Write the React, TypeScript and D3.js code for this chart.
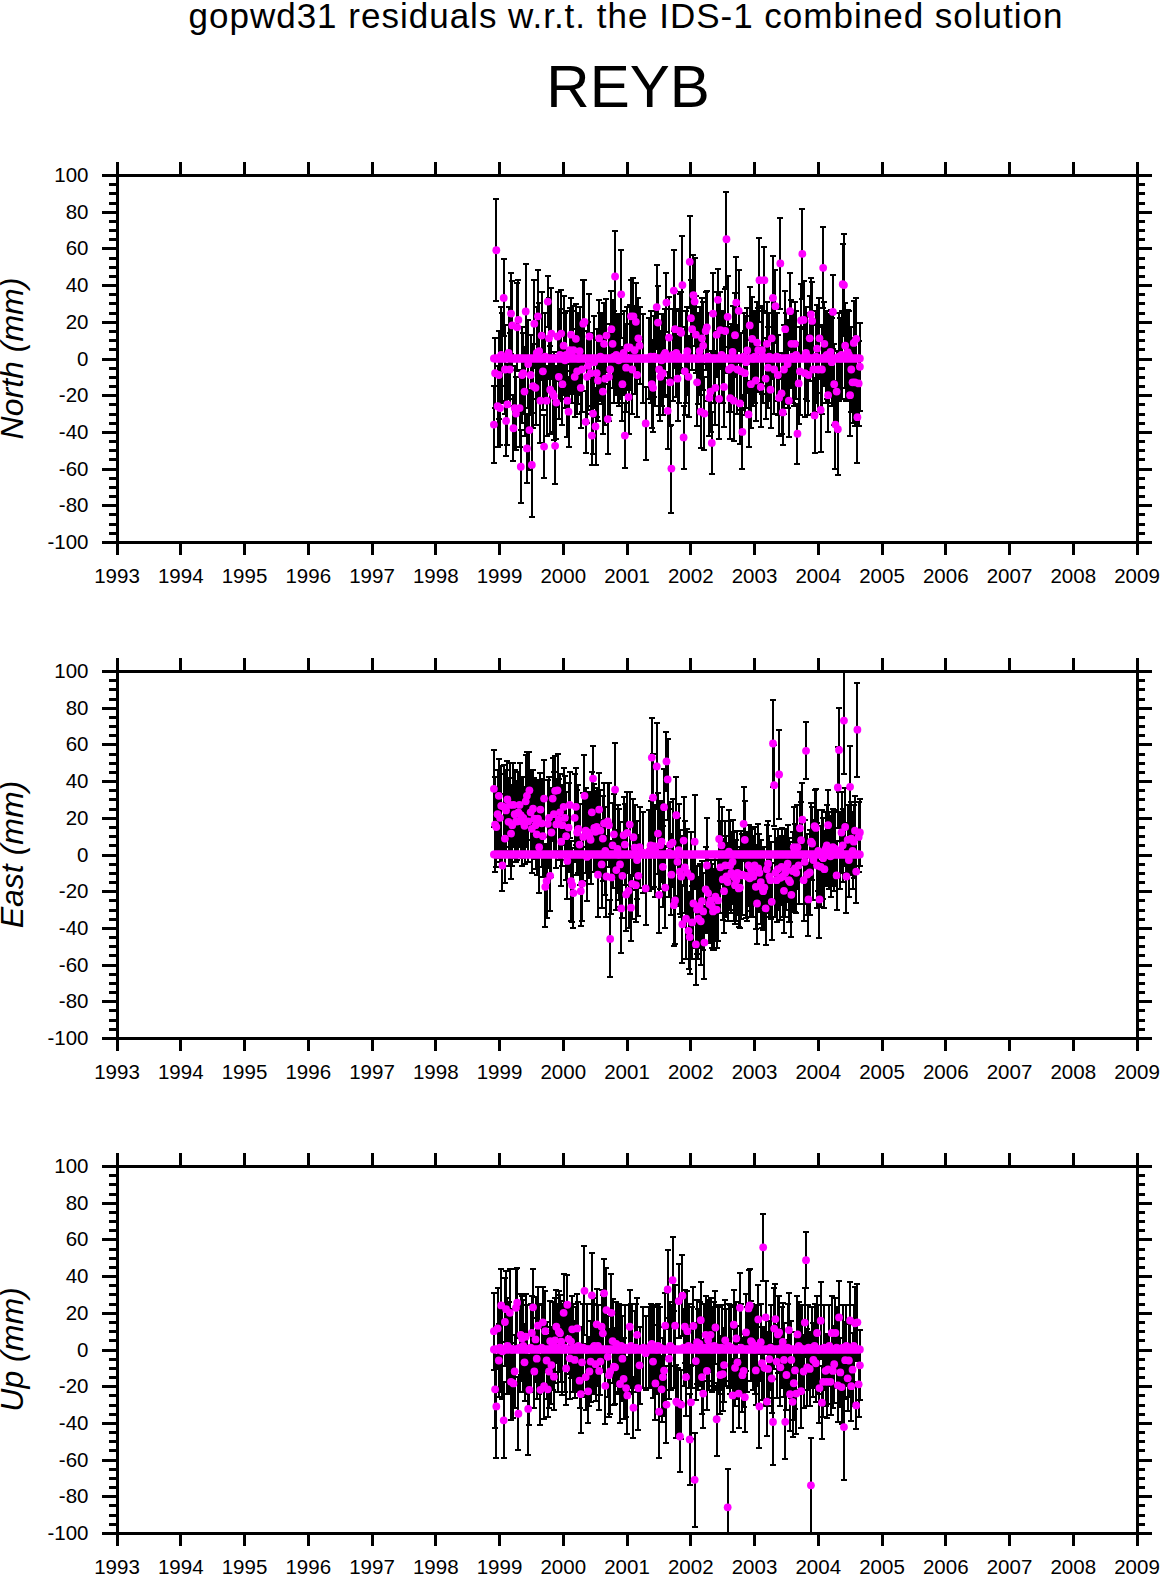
import React, { useEffect, useRef } from "react";
import * as d3 from "d3";

const yearTicks = [1993, 1994, 1995, 1996, 1997, 1998, 1999, 2000, 2001, 2002, 2003, 2004, 2005, 2006, 2007, 2008, 2009];
const mmTicks = [-100, -80, -60, -40, -20, 0, 20, 40, 60, 80, 100];
const mmMinorTicks = [-95, -90, -85, -75, -70, -65, -55, -50, -45, -35, -30, -25, -15, -10, -5, 5, 10, 15, 25, 30, 35, 45, 50, 55, 65, 70, 75, 85, 90, 95];

// weekly epochs, ten per row
const epochs = [
	1998.92, 1998.939, 1998.958, 1998.978, 1998.997, 1999.016, 1999.035, 1999.054, 1999.074, 1999.093,
	1999.112, 1999.131, 1999.15, 1999.17, 1999.189, 1999.208, 1999.227, 1999.246, 1999.266, 1999.285,
	1999.304, 1999.323, 1999.342, 1999.362, 1999.381, 1999.4, 1999.419, 1999.438, 1999.458, 1999.477,
	1999.496, 1999.515, 1999.534, 1999.554, 1999.573, 1999.592, 1999.611, 1999.63, 1999.65, 1999.669,
	1999.688, 1999.707, 1999.726, 1999.746, 1999.765, 1999.784, 1999.803, 1999.822, 1999.842, 1999.861,
	1999.88, 1999.899, 1999.918, 1999.938, 1999.957, 1999.976, 1999.995, 2000.014, 2000.034, 2000.053,
	2000.072, 2000.091, 2000.11, 2000.13, 2000.149, 2000.168, 2000.187, 2000.206, 2000.226, 2000.245,
	2000.264, 2000.283, 2000.302, 2000.322, 2000.341, 2000.36, 2000.379, 2000.398, 2000.418, 2000.437,
	2000.456, 2000.475, 2000.494, 2000.514, 2000.533, 2000.552, 2000.571, 2000.59, 2000.61, 2000.629,
	2000.648, 2000.667, 2000.686, 2000.706, 2000.725, 2000.744, 2000.763, 2000.782, 2000.802, 2000.821,
	2000.84, 2000.859, 2000.878, 2000.898, 2000.917, 2000.936, 2000.955, 2000.974, 2000.994, 2001.013,
	2001.032, 2001.051, 2001.07, 2001.09, 2001.109, 2001.128, 2001.147, 2001.166, 2001.186, 2001.205,
	2001.224, 2001.243, 2001.262, 2001.282, 2001.301, 2001.32, 2001.339, 2001.358, 2001.378, 2001.397,
	2001.416, 2001.435, 2001.454, 2001.474, 2001.493, 2001.512, 2001.531, 2001.55, 2001.57, 2001.589,
	2001.608, 2001.627, 2001.646, 2001.666, 2001.685, 2001.704, 2001.723, 2001.742, 2001.762, 2001.781,
	2001.8, 2001.819, 2001.838, 2001.858, 2001.877, 2001.896, 2001.915, 2001.934, 2001.954, 2001.973,
	2001.992, 2002.011, 2002.03, 2002.05, 2002.069, 2002.088, 2002.107, 2002.126, 2002.146, 2002.165,
	2002.184, 2002.203, 2002.222, 2002.242, 2002.261, 2002.28, 2002.299, 2002.318, 2002.338, 2002.357,
	2002.376, 2002.395, 2002.414, 2002.434, 2002.453, 2002.472, 2002.491, 2002.51, 2002.53, 2002.549,
	2002.568, 2002.587, 2002.606, 2002.626, 2002.645, 2002.664, 2002.683, 2002.702, 2002.722, 2002.741,
	2002.76, 2002.779, 2002.798, 2002.818, 2002.837, 2002.856, 2002.875, 2002.894, 2002.914, 2002.933,
	2002.952, 2002.971, 2002.99, 2003.01, 2003.029, 2003.048, 2003.067, 2003.086, 2003.106, 2003.125,
	2003.144, 2003.163, 2003.182, 2003.202, 2003.221, 2003.24, 2003.259, 2003.278, 2003.298, 2003.317,
	2003.336, 2003.355, 2003.374, 2003.394, 2003.413, 2003.432, 2003.451, 2003.47, 2003.49, 2003.509,
	2003.528, 2003.547, 2003.566, 2003.586, 2003.605, 2003.624, 2003.643, 2003.662, 2003.682, 2003.701,
	2003.72, 2003.739, 2003.758, 2003.778, 2003.797, 2003.816, 2003.835, 2003.854, 2003.874, 2003.893,
	2003.912, 2003.931, 2003.95, 2003.97, 2003.989, 2004.008, 2004.027, 2004.046, 2004.066, 2004.085,
	2004.104, 2004.123, 2004.142, 2004.162, 2004.181, 2004.2, 2004.219, 2004.238, 2004.258, 2004.277,
	2004.296, 2004.315, 2004.334, 2004.354, 2004.373, 2004.392, 2004.411, 2004.43, 2004.45, 2004.469,
	2004.488, 2004.507, 2004.526, 2004.546, 2004.565, 2004.584, 2004.603, 2004.622, 2004.642, 2004.661,
];

const northValues = [
	-36, -8, 59, -26, -9, -27, 2, 1, 33, -6,
	-34, -25, 3, -6, 24.5, 18, -38, -27, -30, 17,
	21, -27, -59, -9, -8, -18, 25.6, -49, -3, -39,
	-9, -58, -15, 19, -16, 3, 23, 4, -23, 12.5,
	-7, -48, 1, -23, 31, 11, -17, 13.6, -19, -20.5,
	-47.6, -24, 12, -10, 2, 13.6, -14, 7, -1, 2,
	-23, -29, 4.5, 13, 1, 4.5, -10, 10.7, -7, 0,
	4, -16, -6, 19, 20, -34.5, -10, -4, 12, -8,
	-42, -30, -2, -37, -8, -12, 11, 1, 0, -18,
	8, -11, 12.5, -33, -10, -6, 16, 8, 1, 44.7,
	2, 0, -1, 1, 35, -14, 3, -42, -5, 6,
	-21, 6, 23, -6, 23, 4.5, 20, -9, 11, 7,
	null, null, 0, null, -35.4, null, null, 0, 1, -14,
	-16, 1, 0, 28, 19.6, -6, -10, -1, -8, 2,
	3, 30.5, -28.5, 11.4, -13, -60, 2, 37, 16, 3,
	-11, 1, 15, 14, 40, -43, -7, 1, 4, -10,
	52.7, 22, 16, 34.5, 31, 13, -13, 0, 4, -29,
	11, 7, -30, 15, 17, 1, -21.4, -18, -46, 24.5,
	0, -16, 13, 32, -22, 15.5, 2, 1, -15.5, 15,
	65, 22.7, -6, -21.6, -5, 3.6, -23, 12.7, 30.5, -6,
	26, -24.5, -7, -40, 1, -8, -2, 4.4, -30.5, 18,
	-14, 10.7, 0, 1, -12, 8.7, 4.5, 42.7, -15.5, 4.5,
	1, 42.7, -11, 8, -5, 1, -17, 11, 33, -6,
	28.5, 1, -9, -21.4, 51.8, -19, -29.4, -6, 16, 0,
	-3, -23, 25.8, 8, 1, 0, 8, 2, -41, -13.6,
	-7, 20.7, 57, 21, -8, 3, 1, -9, 11, 24,
	20.5, -6, -31, 1, 5.4, -6, 11, -28, -6, 49.4,
	8, 1, 2, -20, 0, 3.6, -2, 25.4, -14, -36,
	-18, -38.5, 1, 0, 2, 40.5, 40, 7, 1, 3.4,
	2, -20, -6, -13, 8.5, -13, 10.7, -32, -13.6, -4.5,
];

const northSigmas = [
	21, 19, 27.7, 22, 24, 20, 26, 24, 21, 24,
	19, 22, 25, 20, 22, 24, 18, 23, 20, 24,
	22, 21, 20, 26, 22, 24, 26, 19, 24, 22,
	22, 28.5, 23, 24, 20, 25, 25, 26, 23, 24,
	21, 17, 24, 19, 14, 22, 24, 25, 21, 24,
	21, 20, 24, 23, 25, 24, 22, 27, 26, 24,
	20, 19, 23, 20, 25, 24, 22, 19, 23, 25,
	24, 22, 23, 24, 23, 17, 25, 24, 23, 22,
	16, 22, 25, 21, 24, 22, 21, 24, 25, 23,
	22, 25, 20, 19, 24, 25, 21, 24, 25, 25,
	22, 24, 25, 23, 24, 20, 23, 17.5, 24, 22,
	20, 23, 20, 24, 21, 24, 21, 23, 22, 21,
	20, 20, 24, 20, 20, 20, 20, 22, 25, 24,
	24, 22, 26, 22.7, 20, 25, 24, 25, 23, 22,
	24, 16, 21, 22, 24, 24, 25, 22, 21, 24,
	23, 25, 20, 22, 27, 17, 24, 25, 24, 22,
	25, 21, 22, 22, 24, 21, 24, 25, 24, 20,
	22, 24, 20, 21, 20, 24, 21, 22, 17, 22,
	24, 20, 23, 17, 22, 21, 24, 25, 22, 23,
	26, 22, 23, 22, 24, 25, 22, 23, 25, 24,
	22, 22, 21, 20, 24, 23, 25, 23, 18, 21,
	24, 23, 26, 25, 22, 22, 23, 22.7, 22, 24,
	25, 18, 22, 23, 22, 24, 21, 22, 23, 24,
	20, 24, 22, 21, 25, 22, 18, 24, 21, 25,
	24, 20, 21, 24, 25, 26, 23, 24, 16.4, 22,
	24, 20, 24.5, 21, 24, 25, 24, 22, 23, 20,
	21, 24, 20.5, 25, 24, 23, 22, 23, 24, 22,
	23, 25, 24, 20, 24, 23, 24, 20, 22, 24,
	22, 25, 24, 22, 24, 22, 28, 23, 24, 23,
	24, 22, 23, 22, 23, 24, 22, 25, 23, 24,
];

const eastValues = [
	35.8, 16.3, 15, 22, 32, 20, 26.5, -6, 26, 8.7,
	24, 30, 17.8, 27, 11.4, 16, 27, 22, 18, 18,
	23, 27, 21.4, 18, 20, 15.6, 29, 32, 18, 35,
	23, 14, 25, 19.6, 16, 11, 19.6, 4, 24.5, 17,
	10, 30.5, -17.6, -14.5, 16.7, 20, -11.6, 12, 30.5, 22,
	34.7, 16.4, 35, 19, 23, 7, 16, 26, 20, 10,
	-3.5, 14.7, 27, -14.5, -16.7, -21, 20, 26, 12, 14,
	5.4, -20, -16, 9.6, 32, 13, -1.3, 12, 10, 8,
	23, 41.4, 14.5, 12.4, 15, -11, 24.5, 13, -5.4, 8.7,
	17, 2, -12, 18, 16, -46, -12.5, 5, 11, 35.4,
	-8.5, 3, 0, -5.4, -29.4, -11.6, 10.5, 5.4, -21.8, 11.8,
	-19.8, 16.3, -29, -16, 9.4, 3.8, -16.7, -3, -11.6, 4,
	null, null, 1, null, -18.5, null, null, 2, 5, 52.8,
	31, 4.5, 2, 48, 11.4, -22, 5, 7, -6.7, 25.8,
	-18, 50.7, 40.9, 1, 5.4, -11, 6.5, -27.6, -25, 21.4,
	-4, 2.4, -9.4, -12, -38, 7.6, -7, -35, -10, -41.6,
	-45, -12, -37, -26.7, 7, -49, -30, -35, -28, -36.4,
	-25.4, -31, -48, -19, -6, -21, -27, -25, -28, -31,
	-30, -23, -30, -25, 8.5, -7, 5, -13.6, -20, -6,
	-12, -15, 1.5, -6, -10, -4, -12, -16.7, -14, -10,
	-18.5, -18, -11.4, -11, 16.7, 8, -11.6, -12, -6, -13,
	-8, -10, -12, -6, -17.6, -26.7, -7.6, -10, -15, -18,
	-20, -18, -29.4, -8, -5, -12, -14, -25.8, 60.5, 37.8,
	-10, -14, -8, 43.6, -12.7, -6.7, -12, -19.8, -10, -8,
	-5, -14, -15, -22, -9, 4, -7.6, -10, 4, -6,
	14.3, 7.8, 19, -14, -4, 56.5, -10.9, -24.5, -9.8, 7,
	6, -3, 15.4, 14.5, -6, 2, -24.5, -6.7, 1, -2,
	-8, 3, 5, 16, 2, -1, 3, 4, 2, 3,
	-11.4, 36.5, 57, 2, 12, 5, 73, 15, -12, 8,
	-3, 36.9, 8.7, 2, 7, 13, -9.3, 68, 9.6, 12,
];

const eastSigmas = [
	21, 26, 22, 24, 20, 24, 22, 14, 23, 24,
	22, 21, 24, 23, 25, 22, 23, 24, 22, 21,
	22, 23, 20, 24, 22, 21, 25, 24, 22, 21,
	22, 24, 21, 22, 24, 22, 21, 25, 20, 24,
	22, 21, 22, 20, 24, 22, 19, 24, 22, 23,
	19, 24, 20, 22, 21, 24, 22, 21, 23, 24,
	21, 24, 18, 22, 20, 19, 24, 21, 23, 24,
	22, 19, 20, 24, 22, 23, 24, 22, 23, 24,
	22, 18, 24, 22, 21, 23, 20, 22, 24, 23,
	22, 24, 22, 21, 23, 21, 20, 23, 22, 25.6,
	22, 24, 25, 23, 24.5, 23, 21, 22, 20, 22,
	20, 18, 18, 19, 21, 23, 20, 21, 22, 22,
	20, 20, 22, 20, 19.9, 20, 20, 22, 24, 21.8,
	24, 22, 25, 23.4, 22, 21, 24, 22, 22, 21,
	22, 16, 22, 24, 23, 22, 24, 22, 24, 21,
	24, 25, 23, 22, 21, 24, 25, 22, 24, 21,
	20, 24, 20, 24, 25.6, 22, 24, 22, 23, 24,
	22, 21, 20, 23, 26, 22, 21, 22, 23, 21,
	22, 23, 21, 22, 22, 25, 21, 22, 23, 24,
	22, 21, 23, 24, 22, 23, 24, 21, 22, 23,
	21, 22, 24, 22, 20, 21, 23, 24, 22, 21,
	23, 24, 22, 21, 23, 22, 24, 21, 23, 22,
	21, 22, 20, 24, 23, 22, 21, 21, 23.6, 22,
	24, 23, 22, 24, 23, 21, 22, 23, 24, 22,
	21, 23, 22, 23, 21, 22, 24, 22, 23, 21,
	20, 21, 20, 22, 23, 15.5, 22, 20, 23, 21,
	20, 22, 20, 21, 23, 22, 21, 22, 23, 22,
	21, 20, 22, 19, 21, 22, 20, 21, 22, 20,
	19, 22, 23, 21, 22, 20, 29, 21, 20, 19,
	20, 22, 20, 21, 20, 19, 17, 25.6, 19, 18,
];

const upValues = [
	10, -21.7, -31, 11.5, -6, 1, 24, -1, -38.6, 15,
	22, 2, 1, 20, -17.6, 0, -18.5, -12, 22.7, 25.5,
	-35, 1, 8, 6, 2, -7, 7, 0, -32.4, -22,
	1, 9, 23, -12, 5.5, -5, 13, 0, -22, 1,
	14.8, -20, 10, -6, -21.7, -12, 4.6, -8.5, 2, -14.8,
	5, 12.4, 1, 9.7, 8.8, 4.3, 0, 20, 1, -10.3,
	24.4, 5.7, -4.8, 4.3, 11, 1, -5.7, 0, 11.5, 2,
	-17, -24.3, -7, 1, 32, -15, 0, -22.8, -12, -6.6,
	29.5, 1, 2, -8, 13.7, 2, -11.7, -6.6, 12.4, 8.8,
	30.6, -19.8, 21.5, -4, -14, -12, 20, 4.6, -9.4, -9.7,
	3, 0, 1, -18.8, 2, -5, -16, 1, -21, -25,
	0, 12.4, 2, 1, -31.7, 0, 1, 8, -21, -8.6,
	null, null, 1, null, -2, null, null, 1, 2, 3,
	-6.6, 1, -18.5, 0, 2, -33.9, 1, -21.7, -15, -11.5,
	13, -30, 32.7, -5, 2, 1, 37.8, 0, 13, -28.4,
	-29, 26.4, -47.4, -30, 29.3, 1, 12.4, -15, 10, 2,
	-49, -28.8, 1, 12.8, -71, -6.3, 4, 0, 3, 16,
	-15, -24, 1, 8, -11.7, 5, 2, 8, 0, 1,
	2, 12, -38, 1, 0, -13.9, 1, -13.4, -8.5, 5,
	1, -86, 2, 0, 1, -25, 13.5, -10, 6, -7,
	-24, 22.7, 1, -14, -11.6, -26, 9.3, 0, 22.4, 24,
	4.6, 3.7, 1, 0, -11.4, 2, 16.4, -31, 4, -7.5,
	55.7, -10, 17.5, -28.4, -10.6, -5.3, 1, -15.8, -39.5, 11.4,
	16.6, -6.6, 8.2, 9.3, -9.7, 1, 4.2, -5.7, -39.4, -13.9,
	1, 10.6, -24.4, -5.7, -28.5, -18.4, -11.4, -24, 8.2, 2,
	1, -22.7, 0, -12, 14.7, 48.7, -9.7, 1, -10.6, -74,
	1, -5.7, 2, -7.5, 9, 0, -21, 15.7, -29, -17.6,
	1, -11.6, -17.6, -10.8, 2, -17.6, 9, -11.7, -8, 9,
	1, -19.5, 17.5, -12.5, -20.5, 1, -42.3, -5.8, 2, -15.7,
	-6, 15.8, -20, -11, 2, 14.3, -30.5, 14.8, -19, -8.6,
];

const upSigmas = [
	21, 21, 28, 22, 20, 24, 20, 26, 20.7, 24,
	21, 26, 25, 24, 21, 22, 19, 20, 21, 19,
	20, 24, 22, 23, 25, 21, 23, 24, 25, 19,
	24, 20, 21, 20, 23, 22, 21, 24, 19, 24,
	19, 18, 22, 21, 15, 20, 22, 21, 24, 18,
	23, 20, 24, 22, 21, 22, 25, 21, 24, 20,
	16, 19, 22, 20, 18, 24, 21, 23, 19, 24,
	15, 21, 19, 24, 24.3, 18, 25, 17, 19, 22,
	23, 24, 26, 20, 19, 22, 21, 18, 20, 21,
	18.5, 21, 23, 22, 23, 23, 21, 23, 21, 20,
	23, 24, 24, 21, 22, 23, 22, 23, 16, 21,
	24, 20, 23, 24, 16.7, 21, 24, 20, 23, 21,
	20, 20, 22, 20, 20, 20, 20, 22, 23, 21,
	20, 22, 20, 24, 23, 25.5, 22, 18, 21, 24,
	18, 21, 21.5, 22, 24, 23, 23.6, 21, 22, 20,
	19, 20, 19.6, 19, 22, 21, 20, 21, 22, 23,
	25, 20, 22, 21, 25.5, 21, 23, 22, 23, 21,
	20, 19, 24, 21, 21, 22, 24, 20, 23, 21,
	24, 20, 20, 22, 24, 21, 23, 20, 20, 22,
	21, 21, 23, 24, 22, 20, 19, 21, 20, 20,
	19, 19, 24, 20, 20, 19, 21, 23, 21, 20,
	22, 21, 23, 24, 19, 22, 19, 22.7, 21, 20,
	18.2, 21, 20, 19, 20, 21, 23, 19, 23.4, 22,
	19, 20, 21, 20, 21, 22, 21, 20, 20.4, 19,
	24, 20, 20, 21, 19, 20, 21, 22, 21, 24,
	23, 20, 24, 20, 19, 15.4, 21, 23, 20, 26,
	22, 20, 23, 21, 20, 24, 19, 21, 20, 19,
	23, 19, 20, 19, 22, 18, 20, 20, 21, 19,
	22, 20, 20, 19, 20, 23, 29, 21, 22, 18,
	20, 21, 19, 20, 22, 20, 13, 21, 18, 19,
];

const panels = [
	{ label: "North (mm)", values: northValues, sigmas: northSigmas },
	{ label: "East (mm)", values: eastValues, sigmas: eastSigmas },
	{ label: "Up (mm)", values: upValues, sigmas: upSigmas },
];

export default function App() {
	const svgRef = useRef(null);

	useEffect(() => {
		const svg = d3.select(svgRef.current);
		svg.selectAll("*").remove();

		const font = "'Liberation Sans', Arial, sans-serif";
		const left = 116.5;
		const plotWidth = 1020;
		const plotHeight = 367;
		const tops = [175, 671, 1166];

		svg.append("text")
			.attr("x", 626)
			.attr("y", 27.5)
			.attr("text-anchor", "middle")
			.style("font-family", font)
			.style("font-size", "35px")
			.style("letter-spacing", "1px")
			.text("gopwd31 residuals w.r.t. the IDS-1 combined solution");

		svg.append("text")
			.attr("x", 628)
			.attr("y", 107)
			.attr("text-anchor", "middle")
			.style("font-family", font)
			.style("font-size", "60px")
			.text("REYB");

		const x = d3.scaleLinear().domain([1993, 2009]).range([0, plotWidth]);
		const y = d3.scaleLinear().domain([-100, 100]).range([plotHeight, 0]);

		panels.forEach((panel, p) => {
			const g = svg.append("g").attr("transform", `translate(${left},${tops[p]})`);

			const clipId = `plot-clip-${p}`;
			g.append("clipPath")
				.attr("id", clipId)
				.append("rect")
				.attr("width", plotWidth)
				.attr("height", plotHeight);

			const marks = g.append("g").attr("clip-path", `url(#${clipId})`);
			const rows = epochs
				.map((year, i) => ({ year, value: panel.values[i], sigma: panel.sigmas[i] }))
				.filter((d) => d.value !== null);

			// Error bars and their caps
			const bars = marks.append("g").attr("stroke", "#000").attr("stroke-width", 2).attr("shape-rendering", "crispEdges");
			rows.forEach((d) => {
				const px = x(d.year);
				bars.append("line").attr("x1", px).attr("x2", px).attr("y1", y(d.value - d.sigma)).attr("y2", y(d.value + d.sigma));
				bars.append("line").attr("x1", px - 3).attr("x2", px + 3).attr("y1", y(d.value - d.sigma)).attr("y2", y(d.value - d.sigma));
				bars.append("line").attr("x1", px - 3).attr("x2", px + 3).attr("y1", y(d.value + d.sigma)).attr("y2", y(d.value + d.sigma));
			});

			// Zero reference dots at every epoch
			marks.append("g")
				.selectAll("circle")
				.data(epochs)
				.join("circle")
				.attr("cx", (d) => x(d))
				.attr("cy", y(0))
				.attr("r", 3.9)
				.attr("fill", "#ff00ff");

			// Residual dots
			marks.append("g")
				.selectAll("circle")
				.data(rows)
				.join("circle")
				.attr("cx", (d) => x(d.year))
				.attr("cy", (d) => y(d.value))
				.attr("r", 3.9)
				.attr("fill", "#ff00ff");

			// Axes on all four sides
			const styleAxis = (axis) => {
				axis.select(".domain").attr("stroke", "#000").attr("stroke-width", 3);
				axis.selectAll(".tick line").attr("stroke", "#000").attr("stroke-width", 3);
				axis.selectAll("text")
					.attr("fill", "#000")
					.style("font-family", font)
					.style("font-size", "20.5px");
				axis.attr("shape-rendering", "crispEdges");
			};

			g.append("g")
				.attr("transform", `translate(0,${plotHeight})`)
				.call(d3.axisBottom(x).tickValues(yearTicks).tickFormat((d) => String(d)).tickSize(13).tickSizeOuter(0).tickPadding(13))
				.call(styleAxis);
			g.append("g")
				.call(d3.axisTop(x).tickValues(yearTicks).tickFormat(() => "").tickSize(13).tickSizeOuter(0))
				.call(styleAxis);
			g.append("g")
				.call(d3.axisLeft(y).tickValues(mmTicks).tickFormat((d) => String(d)).tickSize(15).tickSizeOuter(0).tickPadding(13))
				.call(styleAxis);
			g.append("g")
				.call(d3.axisLeft(y).tickValues(mmMinorTicks).tickFormat(() => "").tickSize(8).tickSizeOuter(0))
				.call(styleAxis);
			g.append("g")
				.attr("transform", `translate(${plotWidth},0)`)
				.call(d3.axisRight(y).tickValues(mmTicks).tickFormat(() => "").tickSize(15).tickSizeOuter(0))
				.call(styleAxis);
			g.append("g")
				.attr("transform", `translate(${plotWidth},0)`)
				.call(d3.axisRight(y).tickValues(mmMinorTicks).tickFormat(() => "").tickSize(8).tickSizeOuter(0))
				.call(styleAxis);

			// Rotated panel label
			svg.append("text")
				.attr("transform", `translate(23,${tops[p] + plotHeight / 2}) rotate(-90)`)
				.attr("text-anchor", "middle")
				.style("font-family", font)
				.style("font-style", "italic")
				.style("font-size", "32px")
				.text(panel.label);
		});
	}, []);

	return (
		<svg
			ref={svgRef}
			width={1160}
			height={1575}
			style={{ position: "absolute", left: 0, top: 0, background: "#fff" }}
		></svg>
	);
}
